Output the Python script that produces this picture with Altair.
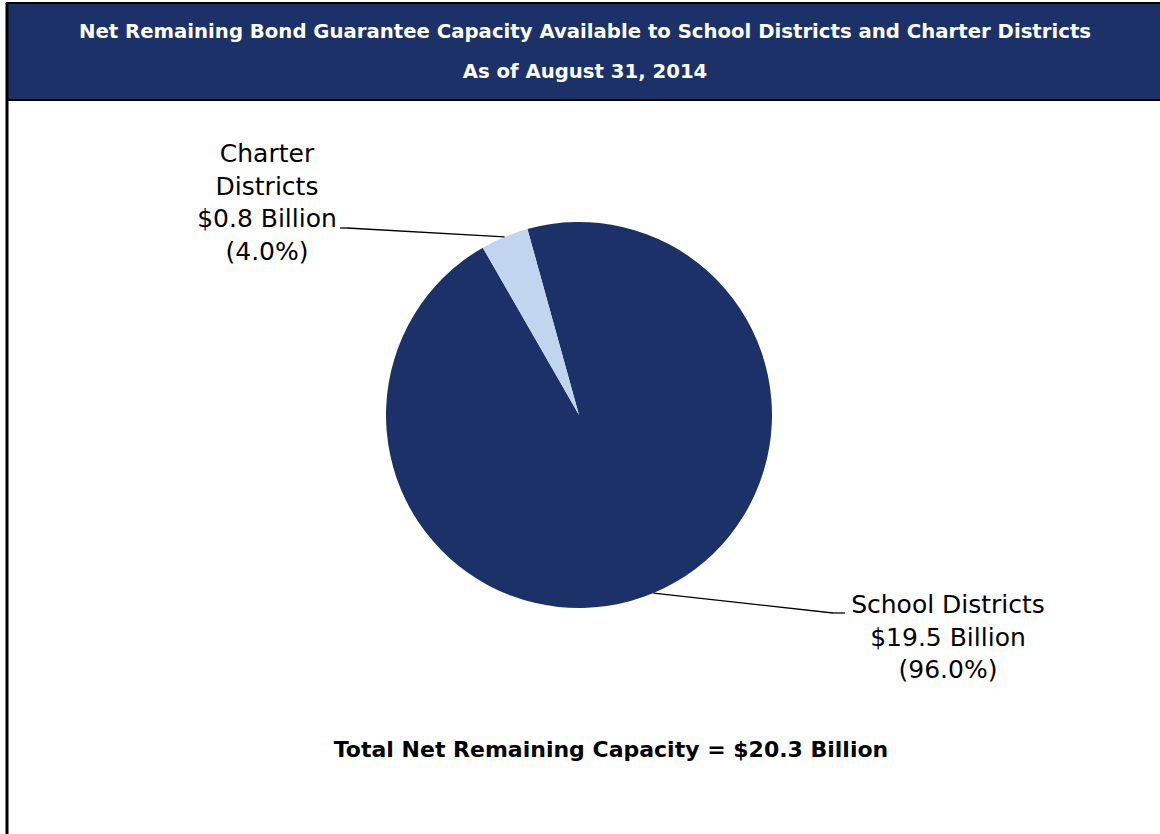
import math
import altair as alt
import pandas as pd

# ---- data ----
categories = ["School Districts", "Charter Districts"]
label_names = ["School Districts", "Charter\nDistricts"]
amounts_billion = [19.5, 0.8]
percents = [96.0, 4.0]
total_billion = 20.3
title_lines = [
    "Net Remaining Bond Guarantee Capacity Available to School Districts and Charter Districts",
    "As of August 31, 2014",
]
footer = f"Total Net Remaining Capacity = ${total_billion} Billion"

# ---- layout / style ----
W, H = 1160, 834
CX, CY, R = 579, 415, 193
START = math.radians(-15.5)
NAVY = "#1b3168"
LIGHT = "#c1d5ee"
FONT = "DejaVu Sans"

# label anchors (layout) per category
label_x = [948, 267]
label_y = [613, 162]
elbow_x = [833, 347]
elbow_end_x = [845, 340]
elbow_y = [613, 228]

# leader start points from slice mid-angles
tot = sum(percents)
rows = []
cum = 0.0
for i, c in enumerate(categories):
    a0 = START + 2 * math.pi * cum / tot
    cum += percents[i]
    a1 = START + 2 * math.pi * cum / tot
    mid = (a0 + a1) / 2
    rows.append(dict(
        category=c,
        pct=percents[i],
        label=f"{label_names[i]}\n${amounts_billion[i]} Billion\n({percents[i]:.1f}%)",
        lx=label_x[i], ly=label_y[i],
        sx=CX + R * math.sin(mid), sy=CY - R * math.cos(mid),
        ex=elbow_x[i], ey=elbow_y[i], ex2=elbow_end_x[i],
    ))
df = pd.DataFrame(rows)

xs = alt.Scale(domain=[0, W], range=[0, W], nice=False, zero=False)
ys = alt.Scale(domain=[0, H], range=[0, H], nice=False, zero=False)

base = alt.Chart(df)

pie = base.mark_arc(outerRadius=R, stroke=None).encode(
    theta=alt.Theta("pct:Q", stack=True,
                    scale=alt.Scale(range=[START, START + 2 * math.pi])),
    color=alt.Color("category:N",
                    scale=alt.Scale(domain=categories, range=[NAVY, LIGHT]),
                    legend=None),
    order=alt.Order("order:Q"),
    x=alt.value(CX), y=alt.value(CY),
).transform_calculate(order="datum.category === 'School Districts' ? 0 : 1")

leader = base.mark_rule(color="black", strokeWidth=1.3).encode(
    x=alt.X("sx:Q", scale=xs, axis=None),
    y=alt.Y("sy:Q", scale=ys, axis=None),
    x2="ex:Q", y2="ey:Q",
)
elbow = base.mark_rule(color="black", strokeWidth=1.3).encode(
    x=alt.X("ex:Q", scale=xs, axis=None),
    y=alt.Y("ey:Q", scale=ys, axis=None),
    x2="ex2:Q", y2="ey:Q",
)
labels = base.mark_text(font=FONT, fontSize=25, lineBreak="\n", lineHeight=32.5,
                        align="center", baseline="alphabetic", color="black").encode(
    x=alt.X("lx:Q", scale=xs, axis=None),
    y=alt.Y("ly:Q", scale=ys, axis=None),
    text="label:N",
)

hdr_df = pd.DataFrame({"t": [title_lines[0]], "t2": [title_lines[1]], "f": [footer]})
hb = alt.Chart(hdr_df)
header = hb.mark_rect(color=NAVY, stroke="black", strokeWidth=2).encode(
    x=alt.value(7), x2=alt.value(W + 5), y=alt.value(3), y2=alt.value(100))
left_border = hb.mark_rule(color="black", strokeWidth=3).encode(
    x=alt.value(7), y=alt.value(3), y2=alt.value(H))
t1 = hb.mark_text(font=FONT, fontSize=19.7, fontWeight="bold", color="white",
                  align="center", baseline="middle").encode(
    x=alt.value(585), y=alt.value(32), text="t:N")
t2 = hb.mark_text(font=FONT, fontSize=19.7, fontWeight="bold", color="white",
                  align="center", baseline="middle").encode(
    x=alt.value(585), y=alt.value(72), text="t2:N")
foot = hb.mark_text(font=FONT, fontSize=22, fontWeight="bold", color="black",
                    align="center", baseline="middle").encode(
    x=alt.value(611), y=alt.value(750), text="f:N")

chart = alt.layer(header, left_border, t1, t2, pie, leader, elbow, labels, foot).properties(
    width=W, height=H,
    autosize=alt.AutoSizeParams(type="none"),
    padding=0,
    background="white",
).configure_view(stroke=None).resolve_scale(x="shared", y="shared")

chart.save("out.html", embed_options={"renderer": "svg", "actions": False})
